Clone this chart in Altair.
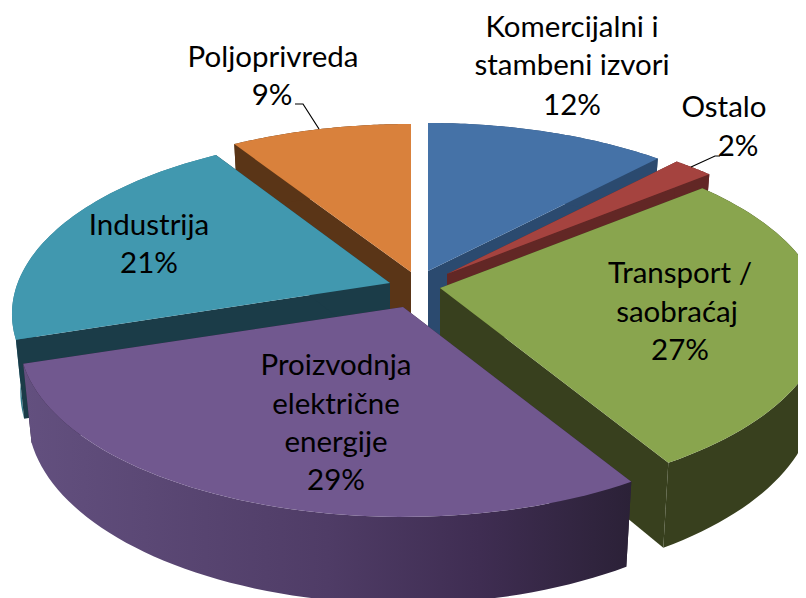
import numpy as np
import pandas as pd
import altair as alt

# Values (labels show the rounded numbers)
names = ["Komercijalni i stambeni izvori", "Ostalo", "Transport / saobraćaj",
         "Proizvodnja električne energije", "Industrija", "Poljoprivreda"]
shares = [12.0, 2.0, 27.4, 28.6, 21.0, 9.0]
top_colors = ["#4572A7", "#A5433F", "#89A54E", "#71588F", "#4198AF", "#D9813C"]
wall_colors = ["#2B4A6F", "#622725", "#38401E", "#2B2137", "#1B3C48", "#5A3517"]
explode_x = [428, 447, 440, 403, 390, 411]
explode_y = [271, 274, 288, 307, 283, 272]
radius_x = [1.0, 1.0, 1.0, 1.0, 0.985, 1.0]
draw_order = [0, 1, 5, 4, 2, 3]

label_lines = ["Komercijalni i", "stambeni izvori", "12%", "Ostalo", "2%",
               "Poljoprivreda", "9%", "Industrija", "21%",
               "Transport /", "saobraćaj", "27%",
               "Proizvodnja", "električne", "energije", "29%"]
label_x = [572, 572, 572, 724, 738, 273, 272, 149, 149, 680, 677, 680, 336, 336, 336, 336]
label_y = [28, 66, 106, 108, 147, 58, 96, 226, 264, 274, 313, 351, 366, 405, 443, 481]

leader_x = [[295, 303, 319], [691, 715, 720]]
leader_y = [[104, 104, 129], [167, 156, 156]]

RX, RY, K, DEPTH, SHRINK = 378.0, 173.6, 0.173, 76.0, 0.978
W, H = 798, 598
xs = alt.Scale(domain=[8, W], range=[0, W - 8])
ys = alt.Scale(domain=[8, H], range=[0, H - 8])


def top_pt(ang, cx, cy, rs):
    a = np.radians(ang)
    f = 1.0 / (1.0 + K * np.cos(a))
    return cx + RX * rs * np.sin(a) * f, cy - RY * np.cos(a) * f


def low_pt(ang, cx, cy, rs):
    a = np.radians(ang)
    f = 1.0 / (1.0 + K * np.cos(a))
    x, y = top_pt(ang, cx, cy, rs)
    return cx + (x - cx) * SHRINK, y + DEPTH * f ** 0.7


def poly(points, fill):
    df = pd.DataFrame({"px": [p[0] for p in points], "py": [p[1] for p in points],
                       "i": range(len(points))})
    return alt.Chart(df).mark_line(fill=fill, strokeOpacity=0, clip=True, interpolate="linear-closed").encode(
        x=alt.X("px:Q", scale=xs, axis=None),
        y=alt.Y("py:Q", scale=ys, axis=None),
        order="i:Q",
    )


purple_grad = alt.Gradient(gradient="linear", x1=0, x2=1, y1=0, y2=0, stops=[
    alt.GradientStop(color="#63507F", offset=0),
    alt.GradientStop(color="#4F3C66", offset=0.5),
    alt.GradientStop(color="#3F2D52", offset=0.75),
    alt.GradientStop(color="#2B2137", offset=1),
])
teal_rim = "#2F7A8C"

starts = np.cumsum([0] + shares[:-1]) * 3.6
ends = np.cumsum(shares) * 3.6
layers = []
for k in draw_order:
    a0, a1, cx, cy = starts[k], ends[k], explode_x[k], explode_y[k]
    rs = radius_x[k]
    angs = np.linspace(a0, a1, 60)
    arc_top = [top_pt(a, cx, cy, rs) for a in angs]
    arc_low = [low_pt(a, cx, cy, rs) for a in angs]
    apex = (cx, cy)
    apex_low = (cx, cy + DEPTH)
    rim_fill = purple_grad if k == 3 else (teal_rim if k == 4 else wall_colors[k])
    rim = poly(arc_top + arc_low[::-1], rim_fill)
    walls = [poly([apex, t, l, apex_low], wall_colors[k])
             for t, l in ((arc_top[0], arc_low[0]), (arc_top[-1], arc_low[-1]))]
    # Only the teal rim passes behind its own cut wall
    layers.extend([rim] + walls if k == 4 else walls + [rim])
    layers.append(poly([apex] + arc_top, top_colors[k]))

for lx, ly in zip(leader_x, leader_y):
    df = pd.DataFrame({"px": lx, "py": ly, "i": range(len(lx))})
    layers.append(alt.Chart(df).mark_line(color="#000000", strokeWidth=1.2).encode(
        x=alt.X("px:Q", scale=xs, axis=None),
        y=alt.Y("py:Q", scale=ys, axis=None),
        order="i:Q",
    ))

text_df = pd.DataFrame({"t": label_lines, "px": label_x, "py": label_y})
layers.append(alt.Chart(text_df).mark_text(font="Lato", fontSize=29.5, color="#000000",
                                           align="center", baseline="middle").encode(
    x=alt.X("px:Q", scale=xs, axis=None),
    y=alt.Y("py:Q", scale=ys, axis=None),
    text="t:N",
))

chart = alt.layer(*layers).properties(
    width=W - 8, height=H - 8, padding=0,
    autosize=alt.AutoSizeParams(type="none"),
    background="#FFFFFF",
).configure_view(stroke=None)

chart.save("out.html", embed_options={"renderer": "svg", "actions": False})
